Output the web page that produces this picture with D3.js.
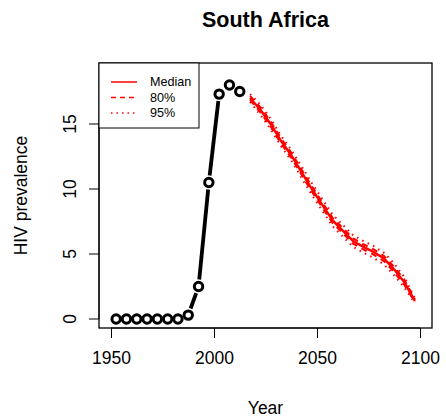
<!DOCTYPE html>
<html>
  <head>
    <meta charset="utf-8" />
    <title>South Africa HIV prevalence</title>
    <script src="https://d3js.org/d3.v7.min.js"></script>
    <style>
      body { margin: 0; background: #fff; font-family: "Liberation Sans", Arial, sans-serif; }
      svg { display: block; background: #fff; }
    </style>
  </head>
  <body>
    <svg width="446" height="420"></svg>
    <script>
      // observed estimates (5-year period midpoints)
      const obsYears = [1952.5, 1957.5, 1962.5, 1967.5, 1972.5, 1977.5, 1982.5, 1987.5, 1992.5, 1997.5, 2002.5, 2007.5, 2012.5];
      const obsPrev = [0, 0, 0, 0, 0, 0, 0, 0.3, 2.5, 10.5, 17.3, 18.0, 17.5];

      // projections
      const projYears = [2017.5, 2022.5, 2027.5, 2032.5, 2037.5, 2042.5, 2047.5, 2052.5, 2057.5, 2062.5, 2067.5, 2072.5, 2077.5, 2082.5, 2087.5, 2092.5, 2097.5];
      const median = [17.0, 16.1, 15.0, 13.7, 12.6, 11.3, 10.0, 8.8, 7.6, 6.8, 6.0, 5.55, 5.15, 4.65, 3.8, 2.8, 1.4];
      const lo80 = [16.85, 15.9, 14.8, 13.5, 12.4, 11.1, 9.8, 8.6, 7.4, 6.6, 5.8, 5.35, 4.95, 4.45, 3.6, 2.6, 1.3];
      const hi80 = [17.15, 16.3, 15.2, 13.9, 12.8, 11.5, 10.2, 9.0, 7.8, 7.0, 6.2, 5.75, 5.35, 4.85, 4.0, 3.0, 1.5];
      const lo95 = [16.7, 15.7, 14.6, 13.3, 12.2, 10.85, 9.55, 8.35, 7.15, 6.35, 5.55, 5.1, 4.7, 4.2, 3.35, 2.4, 1.2];
      const hi95 = [17.3, 16.5, 15.4, 14.1, 13.0, 11.75, 10.45, 9.25, 8.05, 7.25, 6.45, 6.0, 5.6, 5.1, 4.25, 3.2, 1.6];

      const xTicks = [1950, 2000, 2050, 2100];
      const yTicks = [0, 5, 10, 15];
      const legendLabels = ["Median", "80%", "95%"];

      const svg = d3.select("svg");
      const box = { left: 99, right: 432, top: 63, bottom: 328 };

      const x = d3.scaleLinear().domain([1950, 2100]).range([111, 420]);
      const y = d3.scaleLinear().domain([0, 15]).range([319, 124]);

      // title
      svg.append("text")
        .attr("x", (box.left + box.right) / 2).attr("y", 27)
        .attr("text-anchor", "middle")
        .attr("font-size", 21.5).attr("font-weight", "bold")
        .text("South Africa");

      // axes
      const xAxis = svg.append("g").attr("transform", `translate(0,${box.bottom})`)
        .call(d3.axisBottom(x).tickValues(xTicks).tickFormat(d3.format("d")).tickSize(10).tickPadding(14));
      xAxis.select(".domain").attr("d", `M${x(1950)},0H${x(2100)}`).attr("stroke-width", 1);
      xAxis.selectAll("text").attr("font-size", 17.5).attr("font-family", "Liberation Sans, Arial, sans-serif").attr("fill", "#000");

      const yAxis = svg.append("g").attr("transform", `translate(${box.left},0)`)
        .call(d3.axisLeft(y).tickValues(yTicks).tickSize(10).tickPadding(0));
      yAxis.select(".domain").attr("d", `M0,${y(0)}V${y(15)}`).attr("stroke-width", 1);
      yAxis.selectAll("text")
        .attr("font-size", 17.5).attr("font-family", "Liberation Sans, Arial, sans-serif").attr("fill", "#000")
        .attr("text-anchor", "middle").attr("x", null)
        .attr("transform", d => `translate(-29,${y(d)}) rotate(-90)`)
        .attr("y", 0).attr("dy", "0.35em");
      yAxis.selectAll(".tick").attr("transform", null);
      yAxis.selectAll(".tick line").attr("transform", d => `translate(0,${y(d)})`);

      // plot box
      svg.append("rect")
        .attr("x", box.left).attr("y", box.top)
        .attr("width", box.right - box.left).attr("height", box.bottom - box.top)
        .attr("fill", "none").attr("stroke", "#000").attr("stroke-width", 1.3);

      // axis titles
      svg.append("text")
        .attr("x", (box.left + box.right) / 2).attr("y", 414)
        .attr("text-anchor", "middle").attr("font-size", 17.5)
        .text("Year");
      svg.append("text")
        .attr("transform", `translate(27,${(box.top + box.bottom) / 2}) rotate(-90)`)
        .attr("text-anchor", "middle").attr("font-size", 17.5)
        .text("HIV prevalence");

      // observed: type "b" — segments with gaps around points
      const obs = obsYears.map((yr, i) => [x(yr), y(obsPrev[i])]);
      const gap = 7;
      for (let i = 0; i < obs.length - 1; i++) {
        const [x0, y0] = obs[i], [x1, y1] = obs[i + 1];
        const len = Math.hypot(x1 - x0, y1 - y0);
        if (len <= 2 * gap) continue;
        const ux = (x1 - x0) / len, uy = (y1 - y0) / len;
        svg.append("line")
          .attr("x1", x0 + ux * gap).attr("y1", y0 + uy * gap)
          .attr("x2", x1 - ux * gap).attr("y2", y1 - uy * gap)
          .attr("stroke", "#000").attr("stroke-width", 3.8);
      }
      svg.selectAll("circle.obs").data(obs).enter().append("circle")
        .attr("class", "obs")
        .attr("cx", d => d[0]).attr("cy", d => d[1]).attr("r", 4.2)
        .attr("fill", "none").attr("stroke", "#000").attr("stroke-width", 3);

      // projections
      const line = d3.line().x(d => x(d[0])).y(d => y(d[1]));
      const series = [
        { v: lo95, dash: "1.5,4.5", w: 2 },
        { v: hi95, dash: "1.5,4.5", w: 2 },
        { v: lo80, dash: "6,5", w: 2 },
        { v: hi80, dash: "6,5", w: 2 },
        { v: median, dash: null, w: 2.4 }
      ];
      series.forEach(s => {
        svg.append("path")
          .attr("d", line(projYears.map((yr, i) => [yr, s.v[i]])))
          .attr("fill", "none").attr("stroke", "#ff0000")
          .attr("stroke-width", s.w)
          .attr("stroke-dasharray", s.dash);
      });

      // legend
      const lg = svg.append("g");
      lg.append("rect")
        .attr("x", box.left).attr("y", box.top)
        .attr("width", 100).attr("height", 65)
        .attr("fill", "#fff").attr("stroke", "#000").attr("stroke-width", 1);
      const dashes = [null, "5,4", "1.5,4"];
      legendLabels.forEach((lab, i) => {
        const ly = 82 + i * 15.5;
        lg.append("line")
          .attr("x1", 111).attr("x2", 137).attr("y1", ly).attr("y2", ly)
          .attr("stroke", "#ff0000").attr("stroke-width", 1.5)
          .attr("stroke-dasharray", dashes[i]);
        lg.append("text")
          .attr("x", 150).attr("y", ly).attr("dy", "0.35em")
          .attr("font-size", 12.6).text(lab);
      });
    </script>
  </body>
</html>
